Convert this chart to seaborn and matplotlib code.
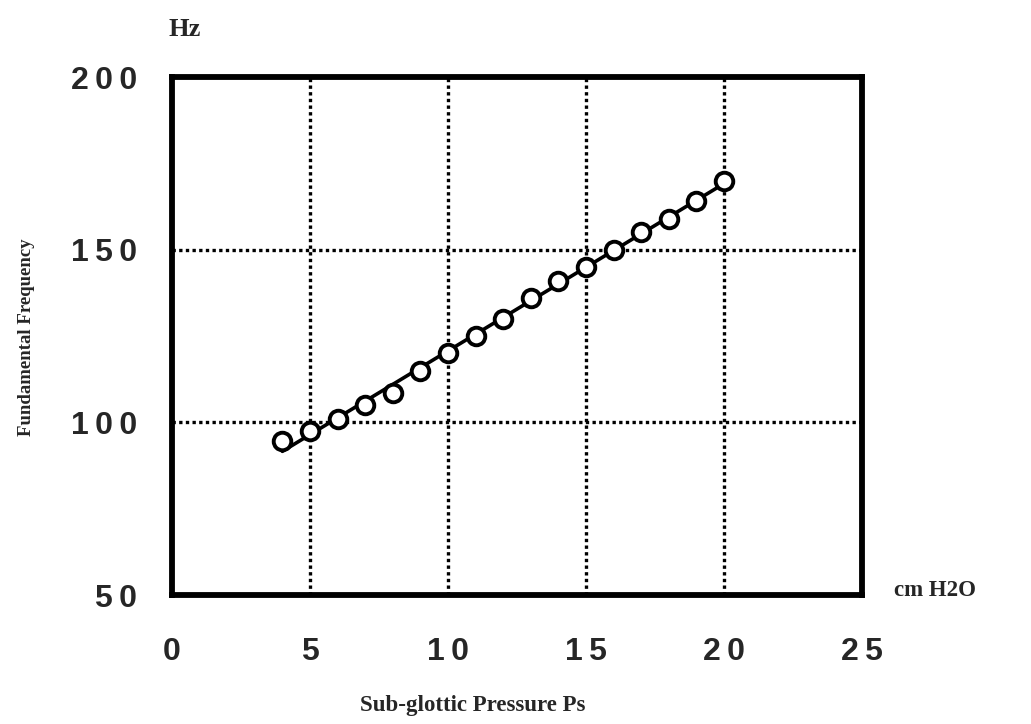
import numpy as np
import pandas as pd
import matplotlib
matplotlib.use("Agg")
import matplotlib.pyplot as plt
import seaborn as sns

pressure = [4, 5, 6, 7, 8, 9, 10, 11, 12, 13, 14, 15, 16, 17, 18, 19, 20]
frequency = [94.5, 97.5, 101, 105, 108.5, 115, 120, 125, 130, 136, 141, 145, 150, 155, 159, 164, 170]
x_ticks = [0, 5, 10, 15, 20, 25]
y_ticks = [50, 100, 150, 200]

df = pd.DataFrame({"Ps": pressure, "F0": frequency})

sns.set_theme(style="white")
plt.rcParams["font.family"] = ["Liberation Sans", "DejaVu Sans"]

fig = plt.figure(figsize=(10.31, 7.24), dpi=100)
ax = fig.add_axes([0.1668, 0.178, 0.6692, 0.7156])

sns.regplot(data=df, x="Ps", y="F0", ax=ax, ci=None, truncate=True,
            scatter_kws=dict(s=160, facecolors="white", edgecolors="black",
                             linewidths=2.8, alpha=1, zorder=4),
            line_kws=dict(color="black", lw=2.6, zorder=3))

ax.set_xlim(0, 25)
ax.set_ylim(50, 200)
ax.set_xticks(x_ticks)
ax.set_yticks(y_ticks)
sp = "\u2009"
ax.set_xticklabels([sp.join(str(t)) for t in x_ticks], fontsize=23, fontweight="bold")
ax.set_yticklabels([sp.join(str(t)) for t in y_ticks], fontsize=23, fontweight="bold")
ax.tick_params(axis="both", length=0)
ax.tick_params(axis="x", pad=30)
ax.tick_params(axis="y", pad=25)

for v in [5, 10, 15, 20]:
    ax.axvline(v, color="black", lw=2.4, ls=(0, (1, 1)), zorder=1)
for v in [100, 150]:
    ax.axhline(v, color="black", lw=2.4, ls=(0, (1, 1)), zorder=1)

for s in ax.spines.values():
    s.set_visible(True)
    s.set_color("black")
    s.set_linewidth(4.2)

ax.set_xlabel("")
ax.set_ylabel("")

serif = ["Liberation Serif", "DejaVu Serif"]
fig.text(185 / 1031, 1 - 30 / 724, "Hz", family=serif, fontsize=19, fontweight="bold",
         ha="center", va="center")
fig.text(27 / 1031, 1 - 337 / 724, "Fundamental Frequency", family=serif, fontsize=13.5,
         fontweight="bold", rotation=90, ha="center", va="center")
fig.text(935 / 1031, 1 - 590 / 724, "cm H2O", family=serif, fontsize=16.5, fontweight="bold",
         ha="center", va="center")
fig.text(473 / 1031, 1 - 705 / 724, "Sub-glottic Pressure Ps", family=serif, fontsize=16.5,
         fontweight="bold", ha="center", va="center")

fig.savefig("out.png", dpi=100, facecolor="white")
